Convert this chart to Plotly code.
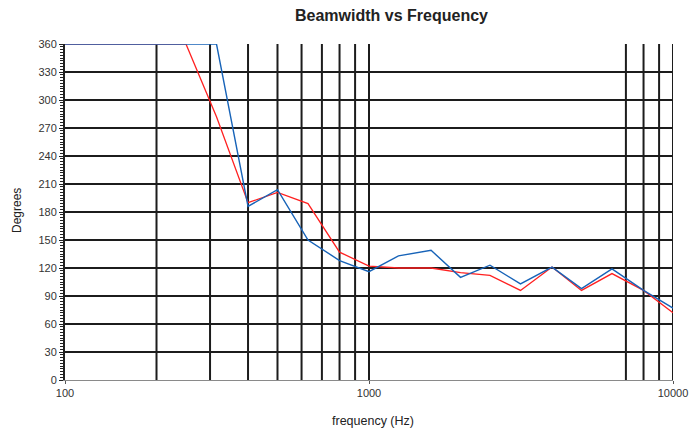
import plotly.graph_objects as go

# One-third-octave band centre frequencies (Hz)
freqs = [100, 125, 160, 200, 250, 315, 400, 500, 630, 800, 1000,
         1250, 1600, 2000, 2500, 3150, 4000, 5000, 6300, 8000, 10000]

# Beamwidth (degrees) for the two measurements
beam_red = [360, 360, 360, 360, 360, 282, 190, 201, 189, 137, 122,
            120, 120, 115, 112, 96, 121, 96, 114, 96, 72]
beam_blue = [360, 360, 360, 360, 360, 360, 186, 204, 150, 128, 116,
             133, 139, 110, 123, 103, 121, 98, 119, 96, 77]

# Vertical grid positions and labelled frequency ticks
grid_freqs = [200, 300, 400, 500, 600, 700, 800, 900, 1000, 7000, 8000, 9000, 10000]
x_ticks = [100, 1000, 10000]
y_ticks = list(range(0, 361, 30))

FONT = "Liberation Sans, Arial, sans-serif"
GRID = "#1c1c1c"

L, R, T, B = 65, 17, 44, 53
W, H = 690, 433
pw, ph = W - L - R, H - T - B

fig = go.Figure()

# vertical grid lines drawn as a single broken trace
gx, gy = [], []
for f in grid_freqs:
    gx += [f, f, None]
    gy += [0, 360, None]
fig.add_trace(go.Scatter(x=gx, y=gy, mode="lines", hoverinfo="skip",
                         line=dict(color=GRID, width=2), showlegend=False))

fig.add_trace(go.Scatter(x=freqs, y=beam_red, mode="lines",
                         line=dict(color="#ff2020", width=1.3), showlegend=False))
fig.add_trace(go.Scatter(x=freqs, y=beam_blue, mode="lines",
                         line=dict(color="#1763b8", width=1.4), showlegend=False))


def px_x(x):
    return (x - L) / pw


def px_y(y):
    return (H - B - y) / ph


fig.update_layout(
    width=W, height=H,
    margin=dict(l=L, r=R, t=T, b=B, autoexpand=False),
    paper_bgcolor="white", plot_bgcolor="white",
    font=dict(family=FONT, size=11, color="#333333"),
    xaxis=dict(type="log", range=[2, 4], tickvals=x_ticks,
               ticktext=[str(v) for v in x_ticks], automargin=False,
               showgrid=False, zeroline=False,
               showline=True, linecolor="#8a8a8a", linewidth=1,
               ticks="outside", ticklen=3, tickcolor="#555555",
               tickfont=dict(size=11, color="#333333")),
    yaxis=dict(range=[0, 360], tickvals=y_ticks, automargin=False,
               showgrid=True, gridcolor=GRID, gridwidth=2,
               zeroline=False, showline=True, linecolor="#222222", linewidth=2,
               ticks="outside", ticklen=4, tickcolor="#222222",
               minor=dict(dtick=3, ticks="outside", ticklen=3, tickcolor="#222222",
                          showgrid=False),
               tickfont=dict(size=11, color="#333333")),
    annotations=[
        dict(text="<b>Beamwidth vs Frequency</b>", x=px_x(391), y=px_y(15),
             xref="paper", yref="paper", xanchor="center", yanchor="middle",
             showarrow=False, font=dict(size=16, color="#222222")),
        dict(text="frequency (Hz)", x=px_x(373), y=px_y(421),
             xref="paper", yref="paper", xanchor="center", yanchor="middle",
             showarrow=False, font=dict(size=12.5, color="#222222")),
        dict(text="Degrees", x=px_x(17), y=px_y(211), textangle=-90,
             xref="paper", yref="paper", xanchor="center", yanchor="middle",
             showarrow=False, font=dict(size=12, color="#222222")),
    ],
)

fig.write_html("out.html")
